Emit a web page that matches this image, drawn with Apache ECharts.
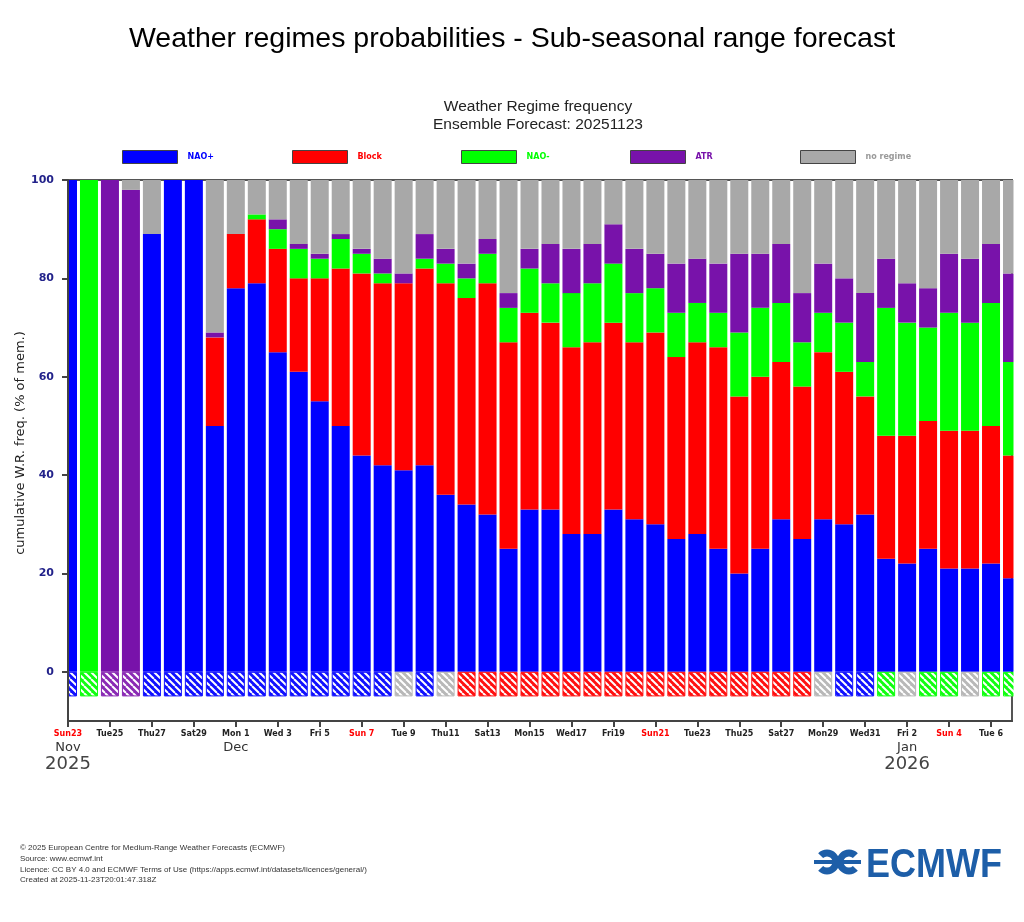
<!DOCTYPE html>
<html>
<head>
<meta charset="utf-8">
<title>Weather regimes probabilities</title>
<script src="https://cdn.jsdelivr.net/npm/echarts@6/dist/echarts.min.js"></script>
<style>
  html, body { margin: 0; padding: 0; background: #fff; }
  #main { width: 1024px; height: 922px; }
</style>
</head>
<body>
<div id="main"></div>
<script>
// x axis: one bar per day, Sun 23 Nov 2025 .. Wed 7 Jan 2026 (day index 0..45)
var tickLabels = ['Sun23', 'Tue25', 'Thu27', 'Sat29', 'Mon 1', 'Wed 3', 'Fri 5', 'Sun 7', 'Tue 9', 'Thu11', 'Sat13',
    'Mon15', 'Wed17', 'Fri19', 'Sun21', 'Tue23', 'Thu25', 'Sat27', 'Mon29', 'Wed31', 'Fri 2', 'Sun 4', 'Tue 6'];
var monthLabels = ['Nov', '', '', '', 'Dec', '', '', '', '', '', '', '', '', '', '', '', '', '', '', '', 'Jan', '', ''];
var yearLabels = ['2025', '', '', '', '', '', '', '', '', '', '', '', '', '', '', '', '', '', '', '', '2026', '', ''];
var yTicks = [0, 20, 40, 60, 80, 100];

// % of members per regime, stacked bottom -> top
var naoPlus = [100, 0, 0, 0, 89, 100, 100, 50, 78, 79, 65, 61, 55, 50, 44, 42, 41, 42, 36, 34, 32, 25, 33, 33, 28, 28,
    33, 31, 30, 27, 28, 25, 20, 25, 31, 27, 31, 30, 32, 23, 22, 25, 21, 21, 22, 19];
var block = [0, 0, 0, 0, 0, 0, 0, 18, 11, 13, 21, 19, 25, 32, 37, 37, 38, 40, 43, 42, 47, 42, 40, 38, 38, 39,
    38, 36, 39, 37, 39, 41, 36, 35, 32, 31, 34, 31, 24, 25, 26, 26, 28, 28, 28, 25];
var naoMinus = [0, 100, 0, 0, 0, 0, 0, 0, 0, 1, 4, 6, 4, 6, 4, 2, 0, 2, 4, 4, 6, 7, 9, 8, 11, 12,
    12, 10, 9, 9, 8, 7, 13, 14, 12, 9, 8, 10, 7, 26, 23, 19, 24, 22, 25, 19];
var atr = [0, 0, 100, 98, 0, 0, 0, 1, 0, 0, 2, 1, 1, 1, 1, 3, 2, 5, 3, 3, 3, 3, 4, 8, 9, 8,
    8, 9, 7, 10, 9, 10, 16, 11, 12, 10, 10, 9, 14, 10, 8, 8, 12, 13, 12, 18];
var noRegime = [0, 0, 0, 2, 11, 0, 0, 31, 11, 7, 8, 13, 15, 11, 14, 16, 19, 11, 14, 17, 12, 23, 14, 13, 14, 13,
    9, 14, 15, 17, 16, 17, 15, 15, 13, 23, 17, 20, 23, 16, 21, 22, 15, 16, 13, 19];

// regime shown in the hatched box under the zero line
var dominant = ['NAO+', 'NAO-', 'ATR', 'ATR',
    'NAO+', 'NAO+', 'NAO+', 'NAO+', 'NAO+', 'NAO+', 'NAO+', 'NAO+', 'NAO+', 'NAO+', 'NAO+', 'NAO+',
    'no regime', 'NAO+', 'no regime',
    'Block', 'Block', 'Block', 'Block', 'Block', 'Block', 'Block', 'Block', 'Block', 'Block', 'Block', 'Block',
    'Block', 'Block', 'Block', 'Block', 'Block',
    'no regime', 'NAO+', 'NAO+', 'NAO-', 'no regime', 'NAO-', 'NAO-', 'no regime', 'NAO-', 'NAO-'];
var hatchDepth = -5;

var colors = {
    'NAO+': '#0000ff',
    'Block': '#ff0000',
    'NAO-': '#00ff00',
    'ATR': '#7812aa',
    'no regime': '#a8a8a8'
};
var hatchColors = {
    'NAO+': '#1010ff',
    'Block': '#ff1010',
    'NAO-': '#10ff10',
    'ATR': '#8a2ab4',
    'no regime': '#b8b8b8'
};

function hatch(color) {
    var c = document.createElement('canvas');
    c.width = 7;
    c.height = 7;
    var g = c.getContext('2d');
    g.fillStyle = color;
    g.fillRect(0, 0, 7, 7);
    g.strokeStyle = '#ffffff';
    g.lineWidth = 2;
    [-7, 0, 7].forEach(function (k) {
        g.beginPath();
        g.moveTo(k, 0);
        g.lineTo(k + 7, 7);
        g.stroke();
    });
    return {image: c, repeat: 'repeat'};
}

// data items are [value, day]; y first so the stack adds up the percentages
function barSeries(name, values) {
    return {
        name: name,
        type: 'bar',
        stack: 'wr',
        barWidth: 18,
        encode: {x: 1, y: 0},
        itemStyle: {color: colors[name]},
        data: values.map(function (v, i) { return [v, i]; })
    };
}

var chart = echarts.init(document.getElementById('main'), null, {renderer: 'canvas'});

var tickDays = tickLabels.map(function (t, i) { return i * 2; });
var legendNames = ['NAO+', 'Block', 'NAO-', 'ATR', 'no regime'];
var legendLeft = [122, 292, 461, 630, 800];
var footer = [
    '\u00a9 2025 European Centre for Medium-Range Weather Forecasts (ECMWF)',
    'Source: www.ecmwf.int',
    'Licence: CC BY 4.0 and ECMWF Terms of Use (https://apps.ecmwf.int/datasets/licences/general/)',
    'Created at 2025-11-23T20:01:47.318Z'
];
var logoBlue = '#1d5ea8';

var graphics = [
    {
        type: 'text', x: 538, y: 98,
        style: {
            text: 'Weather Regime frequency\nEnsemble Forecast: 20251123',
            textAlign: 'center', fontFamily: 'Liberation Sans', fontSize: 15.5, lineHeight: 18, fill: '#222'
        }
    },
    // white strips hide the half bars that spill out of the plot frame
    {type: 'rect', z: 5, shape: {x: 55, y: 176, width: 12, height: 550}, style: {fill: '#fff'}},
    {type: 'rect', z: 5, shape: {x: 1013.5, y: 176, width: 11, height: 550}, style: {fill: '#fff'}},
    // ECMWF logo
    {type: 'arc', shape: {cx: 827, cy: 862, r: 9, startAngle: Math.PI * 1.25, endAngle: Math.PI * 0.75, clockwise: true},
        style: {stroke: logoBlue, lineWidth: 7, fill: null}},
    {type: 'arc', shape: {cx: 849, cy: 862, r: 9, startAngle: Math.PI * 0.25, endAngle: Math.PI * 1.75, clockwise: true},
        style: {stroke: logoBlue, lineWidth: 7, fill: null}},
    {type: 'rect', shape: {x: 814, y: 860, width: 47, height: 4}, style: {fill: logoBlue}},
    {type: 'text', x: 866, y: 846, scaleY: 1.12,
        style: {text: 'ECMWF', fontFamily: 'Liberation Sans', fontSize: 36, fontWeight: 'bold', fill: logoBlue}}
];
footer.forEach(function (line, i) {
    graphics.push({type: 'text', x: 20, y: 844 + i * 10.7,
        style: {text: line, fontFamily: 'Liberation Sans', fontSize: 8, fill: '#333'}});
});

var option = {
    animation: false,
    backgroundColor: '#ffffff',
    title: {
        text: 'Weather regimes probabilities - Sub-seasonal range forecast',
        left: 'center',
        top: 20,
        textStyle: {fontFamily: 'Liberation Sans', fontSize: 28.5, fontWeight: 'normal', color: '#000'}
    },
    legend: legendNames.map(function (n, i) {
        return {
            left: legendLeft[i],
            top: 150,
            padding: 0,
            selectedMode: false,
            itemWidth: 55,
            itemHeight: 13,
            icon: 'rect',
            data: [n],
            itemStyle: {borderColor: '#444', borderWidth: 1},
            textStyle: {
                color: n === 'no regime' ? '#999' : colors[n],
                fontFamily: 'DejaVu Sans', fontSize: 8, fontWeight: 'bold', padding: [0, 0, 0, 5]
            }
        };
    }),
    grid: {
        left: 68, right: 12, top: 180, bottom: 201,
        show: true, borderColor: '#555', borderWidth: 2, backgroundColor: 'transparent'
    },
    xAxis: {
        type: 'value',
        min: 0,
        max: 45,
        interval: 2,
        z: 10,
        splitLine: {show: false},
        axisLine: {show: true, onZero: false, lineStyle: {color: '#444', width: 2}},
        axisTick: {show: true, length: 6, customValues: tickDays, lineStyle: {color: '#444', width: 2}},
        axisLabel: {
            customValues: tickDays,
            margin: 7,
            formatter: function (v) {
                var i = v / 2;
                if (i % 1 !== 0 || !tickLabels[i]) return '';
                var t = tickLabels[i];
                var s = (t.indexOf('Sun') === 0 ? '{s|' : '{d|') + t + '}';
                if (monthLabels[i]) s += '\n{m|' + monthLabels[i] + '}';
                if (yearLabels[i]) s += '\n{y|' + yearLabels[i] + '}';
                return s;
            },
            rich: {
                d: {fontFamily: 'DejaVu Sans', fontSize: 8, fontWeight: 'bold', color: '#222', lineHeight: 12},
                s: {fontFamily: 'DejaVu Sans', fontSize: 8, fontWeight: 'bold', color: '#ff0000', lineHeight: 12},
                m: {fontFamily: 'DejaVu Sans', fontSize: 13, color: '#333', lineHeight: 15},
                y: {fontFamily: 'DejaVu Sans', fontSize: 18, color: '#444', lineHeight: 19}
            }
        }
    },
    yAxis: {
        type: 'value',
        min: -10,
        max: 100,
        interval: 10,
        z: 10,
        name: 'cumulative W.R. freq. (% of mem.)',
        nameLocation: 'middle',
        nameGap: 41,
        nameMoveOverlap: false,
        nameTextStyle: {fontFamily: 'DejaVu Sans', fontSize: 13, color: '#222', padding: [0, 0, 0, 15]},
        splitLine: {show: false},
        axisLine: {show: true, lineStyle: {color: '#444', width: 2}},
        axisTick: {show: true, length: 6, customValues: yTicks, lineStyle: {color: '#444', width: 2}},
        axisLabel: {
            customValues: yTicks,
            margin: 14,
            fontFamily: 'DejaVu Sans',
            fontSize: 11,
            fontWeight: 'bold',
            color: '#22228a',
            formatter: function (v) {
                return (v >= 0 && v % 20 === 0) ? String(v) : '';
            }
        }
    },
    series: [
        barSeries('NAO+', naoPlus),
        barSeries('Block', block),
        barSeries('NAO-', naoMinus),
        barSeries('ATR', atr),
        barSeries('no regime', noRegime),
        {
            name: 'hatch',
            type: 'bar',
            stack: 'wr',
            barWidth: 18,
            encode: {x: 1, y: 0},
            data: dominant.map(function (r, i) {
                return {
                    value: [hatchDepth, i],
                    itemStyle: {color: hatch(hatchColors[r]), borderColor: hatchColors[r], borderWidth: 1}
                };
            })
        }
    ],
    graphic: graphics
};

chart.setOption(option);
window.addEventListener('resize', function () {
    chart.resize();
});
</script>
</body>
</html>
